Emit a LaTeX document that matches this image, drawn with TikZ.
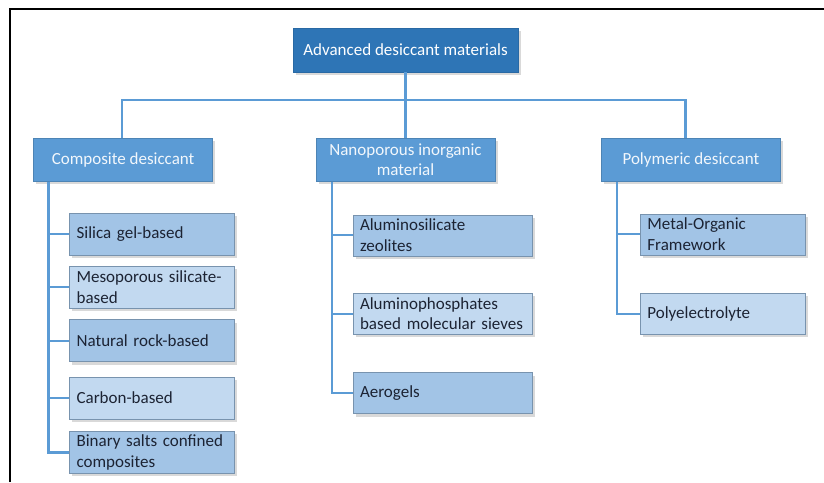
\documentclass[tikz,border=0pt]{standalone}
\usepackage{fontspec}
\setmainfont{Carlito}
\usetikzlibrary{positioning,shadows}
\definecolor{rootblue}{HTML}{2E75B6}
\definecolor{catblue}{HTML}{5B9BD5}
\definecolor{subdark}{HTML}{A2C4E6}
\definecolor{sublight}{HTML}{C2D9F0}
\definecolor{subline}{HTML}{7893AE}
\definecolor{subtext}{HTML}{1C2333}

\begin{document}
\begin{tikzpicture}[
  box/.style = {rectangle, font=\fontsize{17}{20.4}\selectfont,
    drop shadow={shadow xshift=2.5pt, shadow yshift=-3pt, opacity=0.3}},
  top/.style = {box, draw=rootblue!90!black, fill=rootblue, text=white,
    minimum width=225pt, minimum height=44pt},
  cat/.style = {box, draw=catblue!85!black, fill=catblue, text=white!92!catblue,
    align=center, minimum width=179pt, minimum height=43pt, inner sep=0pt},
  sub/.style = {box, draw=subline, fill=subdark, text=subtext, align=left,
    inner xsep=7pt, inner ysep=0pt, text width=#1, minimum height=42pt},
  sub/.default = 151pt,
  subl/.style = {sub=#1, fill=sublight},
  subl/.default = 151pt,
  link/.style = {draw=catblue, line width=2.2pt}]
\useasboundingbox (0,0) rectangle (824pt,-482pt);
% frame
\draw[line width=2.5pt] (10pt,-482pt) -- (10pt,-9pt) -- (824pt,-9pt);

\node[top] (0) at (405.5pt,-50pt) {Advanced desiccant materials};
\node[cat] (2) [below=66pt of 0] {Nanoporous inorganic\\material};
\node[cat] (1) [left=103pt of 2] {Composite desiccant};
\node[cat] (3) [right=106pt of 2] {Polymeric desiccant};

% composite desiccant
\node[sub] (11) [below right=31pt and 36pt of 1.south west] {Silica gel-based};
\node[subl] (12) [below=11pt of 11] {Mesoporous silicate-\\based};
\node[sub] (13) [below=11pt of 12] {Natural rock-based};
\node[subl] (14) [below=15pt of 13] {Carbon-based};
\node[sub] (15) [below=12pt of 14] {Binary salts confined\\composites};

% nanoporous inorganic material
\node[sub=165pt] (21) [below right=33pt and 37pt of 2.south west, minimum height=41pt] {Aluminosilicate\\zeolites};
\node[subl=165pt] (22) [below=37pt of 21, minimum height=41pt] {Aluminophosphates\\based molecular sieves};
\node[sub=165pt] (23) [below=38pt of 22, minimum height=41pt] {Aerogels};

% polymeric desiccant
\node[sub] (31) [below right=32pt and 39pt of 3.south west, minimum height=41pt] {Metal-Organic\\Framework};
\node[subl] (32) [below=38pt of 31, minimum height=41pt] {Polyelectrolyte};

\draw[link] (0) -- (2);
\draw[link] ([xshift=-1.5pt]1.north) -- ++(0,38pt) -| ([xshift=-5.5pt]3.north);
\draw[link] ([xshift=15pt]1.south west) |- (11.west);
\draw[link] ([xshift=15pt]1.south west) |- (12.west);
\draw[link] ([xshift=15pt]1.south west) |- (13.west);
\draw[link] ([xshift=15pt]1.south west) |- (14.west);
\draw[link] ([xshift=15pt]1.south west) |- (15.west);
\draw[link] ([xshift=16pt]2.south west) |- (21.west);
\draw[link] ([xshift=16pt]2.south west) |- (22.west);
\draw[link] ([xshift=16pt]2.south west) |- (23.west);
\draw[link] ([xshift=16pt]3.south west) |- (31.west);
\draw[link] ([xshift=16pt]3.south west) |- (32.west);
\end{tikzpicture}
\end{document}
